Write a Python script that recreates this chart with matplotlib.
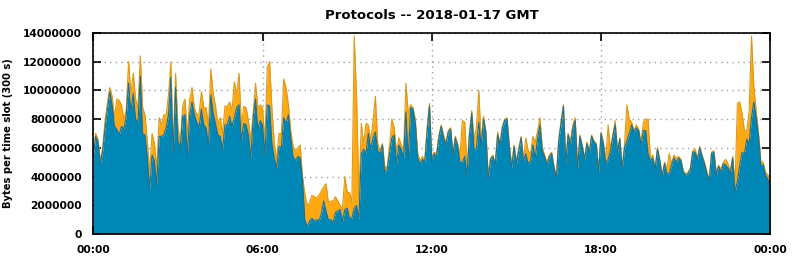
import numpy as np
import matplotlib
matplotlib.use("Agg")
import matplotlib.pyplot as plt

# =========================
# DATA (values in millions of bytes per 300 s slot)
# =========================

title = "Protocols -- 2018-01-17 GMT"
ylabel = "Bytes per time slot (300 s)"
xtick_labels = ["00:00", "06:00", "12:00", "18:00", "00:00"]
ytick_values = [0, 2000000, 4000000, 6000000, 8000000, 10000000, 12000000, 14000000]

total = [
    5.6, 7.0, 6.6, 5.1, 6.0, 7.9, 9.1, 10.2, 9.6, 8.1,
    9.4, 9.3, 9.0, 8.0, 8.6, 12.0, 9.8, 11.2, 9.4, 8.8,
    12.4, 8.8, 8.3, 6.4, 4.4, 7.0, 6.3, 4.6, 8.1, 7.6,
    8.3, 8.3, 9.7, 12.0, 5.8, 11.2, 7.5, 6.3, 8.9, 9.4,
    7.0, 9.4, 10.2, 8.8, 8.3, 8.4, 9.9, 8.8, 8.8, 7.5,
    11.5, 9.8, 8.9, 7.7, 8.1, 7.0, 8.9, 8.9, 9.2, 8.6,
    10.6, 9.7, 11.2, 7.5, 8.9, 8.8, 7.9, 6.5, 8.4, 10.5,
    8.8, 9.0, 8.8, 6.4, 11.6, 12.0, 8.7, 6.3, 5.2, 7.0,
    7.0, 10.8, 10.2, 9.0, 7.2, 6.1, 5.8, 6.0, 6.2, 4.0,
    2.8, 2.0, 2.2, 2.7, 2.6, 2.5, 2.7, 3.0, 3.3, 3.5,
    2.2, 2.3, 2.3, 2.6, 2.3, 2.0, 1.7, 4.0, 2.9, 2.9,
    2.2, 13.8, 9.5, 2.6, 7.7, 6.3, 7.7, 7.6, 6.5, 7.9,
    9.6, 6.3, 5.8, 6.3, 4.7, 4.6, 6.1, 8.0, 7.4, 5.7,
    6.7, 6.2, 5.9, 10.5, 8.4, 9.0, 8.8, 8.0, 5.6, 5.1,
    5.4, 5.1, 7.4, 9.1, 5.3, 5.7, 5.6, 6.9, 7.6, 6.9,
    6.4, 7.2, 7.4, 5.6, 6.8, 6.3, 5.5, 7.9, 7.8, 4.6,
    7.0, 8.6, 6.6, 7.5, 10.0, 6.4, 8.2, 7.2, 4.1, 5.3,
    5.5, 4.9, 7.1, 6.3, 7.5, 8.0, 8.1, 6.2, 4.8, 6.2,
    5.1, 6.0, 6.8, 5.2, 6.7, 5.8, 5.6, 6.8, 6.4, 7.2,
    8.1, 6.0, 5.5, 5.0, 5.5, 5.7, 4.7, 4.0, 6.6, 7.9,
    9.0, 5.0, 7.0, 6.5, 7.6, 8.1, 4.7, 6.9, 6.2, 5.3,
    6.4, 5.8, 6.9, 6.5, 6.3, 4.4, 7.1, 6.4, 5.2, 7.6,
    5.9, 6.9, 7.9, 5.8, 6.7, 4.6, 6.3, 9.0, 8.0, 7.8,
    7.2, 7.6, 7.3, 6.4, 7.8, 8.0, 8.0, 5.3, 5.5, 4.6,
    6.0, 5.2, 4.1, 5.0, 4.5, 5.6, 4.9, 5.5, 5.3, 5.4,
    5.2, 4.4, 4.2, 4.3, 4.6, 5.8, 5.9, 5.3, 6.1, 5.5,
    5.0, 4.4, 3.8, 5.7, 5.8, 4.3, 4.8, 4.5, 5.0, 5.2,
    4.9, 4.4, 5.4, 3.4, 9.1, 9.2, 8.4, 7.2, 7.2, 8.6,
    13.8, 10.2, 8.6, 7.0, 5.0, 5.0, 4.3, 4.1, 3.8,
]

tcp = [
    5.4, 6.8, 6.4, 4.9, 5.8, 7.4, 8.7, 9.9, 9.0, 7.5,
    7.3, 6.9, 7.5, 7.3, 8.2, 10.5, 8.5, 9.8, 8.0, 7.8,
    11.0, 7.0, 6.9, 5.3, 3.1, 5.5, 5.1, 3.4, 6.8, 6.8,
    6.9, 7.4, 8.3, 10.9, 5.7, 10.2, 6.5, 6.0, 8.2, 8.3,
    5.4, 8.3, 9.2, 8.3, 7.8, 7.4, 8.7, 7.6, 7.4, 6.2,
    9.7, 8.4, 7.7, 6.9, 6.8, 5.9, 7.6, 7.6, 8.2, 7.5,
    8.1, 8.8, 9.0, 6.5, 7.7, 7.6, 6.9, 5.3, 8.1, 9.4,
    7.3, 7.9, 7.6, 5.5, 9.0, 8.9, 6.3, 5.3, 4.6, 6.1,
    6.0, 8.1, 7.7, 8.3, 6.7, 5.4, 5.1, 5.4, 5.3, 3.8,
    1.0, 0.5, 0.9, 1.1, 0.9, 1.0, 0.9, 1.4, 2.3, 1.6,
    1.0, 1.0, 0.8, 1.5, 1.6, 1.7, 0.9, 1.7, 1.8, 1.1,
    1.1, 1.8, 2.0, 1.0, 5.6, 5.9, 5.6, 7.0, 5.9, 6.7,
    7.1, 5.8, 5.6, 6.2, 4.3, 4.5, 5.6, 6.7, 6.9, 4.9,
    6.2, 5.9, 5.3, 8.5, 5.2, 8.8, 8.7, 7.7, 5.3, 4.9,
    5.2, 5.0, 7.1, 8.9, 5.1, 5.6, 5.4, 6.7, 7.5, 6.7,
    6.2, 7.1, 7.3, 5.5, 6.7, 6.1, 5.0, 5.0, 5.4, 4.1,
    6.9, 8.4, 5.8, 6.0, 7.8, 6.1, 8.0, 7.1, 3.8, 5.2,
    5.4, 4.8, 6.9, 6.2, 7.4, 7.9, 8.0, 6.0, 4.6, 6.1,
    4.9, 5.8, 6.7, 5.1, 5.6, 4.9, 5.1, 6.2, 5.3, 6.7,
    7.6, 5.8, 5.4, 4.8, 5.4, 5.6, 4.6, 3.9, 6.5, 7.7,
    8.9, 4.9, 6.9, 6.2, 7.4, 7.9, 4.5, 6.8, 6.1, 5.2,
    6.3, 5.7, 6.8, 6.4, 6.2, 4.3, 7.0, 6.2, 4.9, 5.2,
    5.8, 6.8, 7.6, 5.7, 6.6, 4.5, 6.0, 6.5, 7.0, 7.6,
    7.1, 7.4, 7.2, 6.2, 7.2, 7.2, 5.6, 5.1, 5.3, 4.5,
    5.9, 5.1, 4.0, 4.9, 4.2, 4.2, 4.8, 5.3, 5.0, 5.3,
    5.1, 4.3, 4.1, 4.2, 4.5, 5.7, 5.7, 5.2, 6.0, 5.4,
    4.9, 4.2, 3.7, 5.6, 5.7, 4.1, 4.7, 4.3, 4.9, 4.8,
    4.6, 4.2, 5.3, 2.9, 3.7, 4.8, 5.7, 5.6, 6.6, 6.3,
    8.1, 9.2, 8.1, 6.8, 4.8, 4.8, 4.1, 3.8, 3.3,
]

# =========================
# PLOT
# =========================

plt.rcParams['font.family'] = ['DejaVu Sans']
plt.rcParams['font.weight'] = 'bold'

hours = np.arange(len(total)) * 5 / 60.0
top = np.array(total) * 1e6
bottom = np.array(tcp) * 1e6

fig = plt.figure(figsize=(7.92, 2.59), dpi=100)
ax = fig.add_axes([0.1178, 0.0965, 0.8548, 0.7761])

ax.fill_between(hours, 0, bottom, color='#0087b6', lw=0, zorder=2)
ax.fill_between(hours, bottom, top, color='#ffa812', lw=0, zorder=2)
ax.plot(hours, top, color='#d99a1c', lw=0.8, zorder=3)
ax.plot(hours, bottom, color='#1f6f8f', lw=0.8, zorder=3)

ax.set_xlim(0, 24)
ax.set_ylim(0, 14000000)
ax.set_xticks([0, 6, 12, 18, 24])
ax.set_xticklabels(xtick_labels)
ax.set_yticks(ytick_values)
ax.set_yticklabels([str(v) for v in ytick_values])

ax.grid(True, color='#a0a0a0', linestyle=(0, (1, 3)), linewidth=1, zorder=1)
ax.tick_params(direction='in', length=6, width=1.2, top=True, right=True,
               labelsize=7.7, pad=8, colors='black')
for s in ax.spines.values():
    s.set_linewidth(1.2)
    s.set_zorder(5)

ax.set_title(title, fontsize=9.5, fontweight='bold', pad=10)
ax.set_ylabel(ylabel, fontsize=7.2, fontweight='bold', labelpad=7)

fig.savefig("out.png", dpi=100)
